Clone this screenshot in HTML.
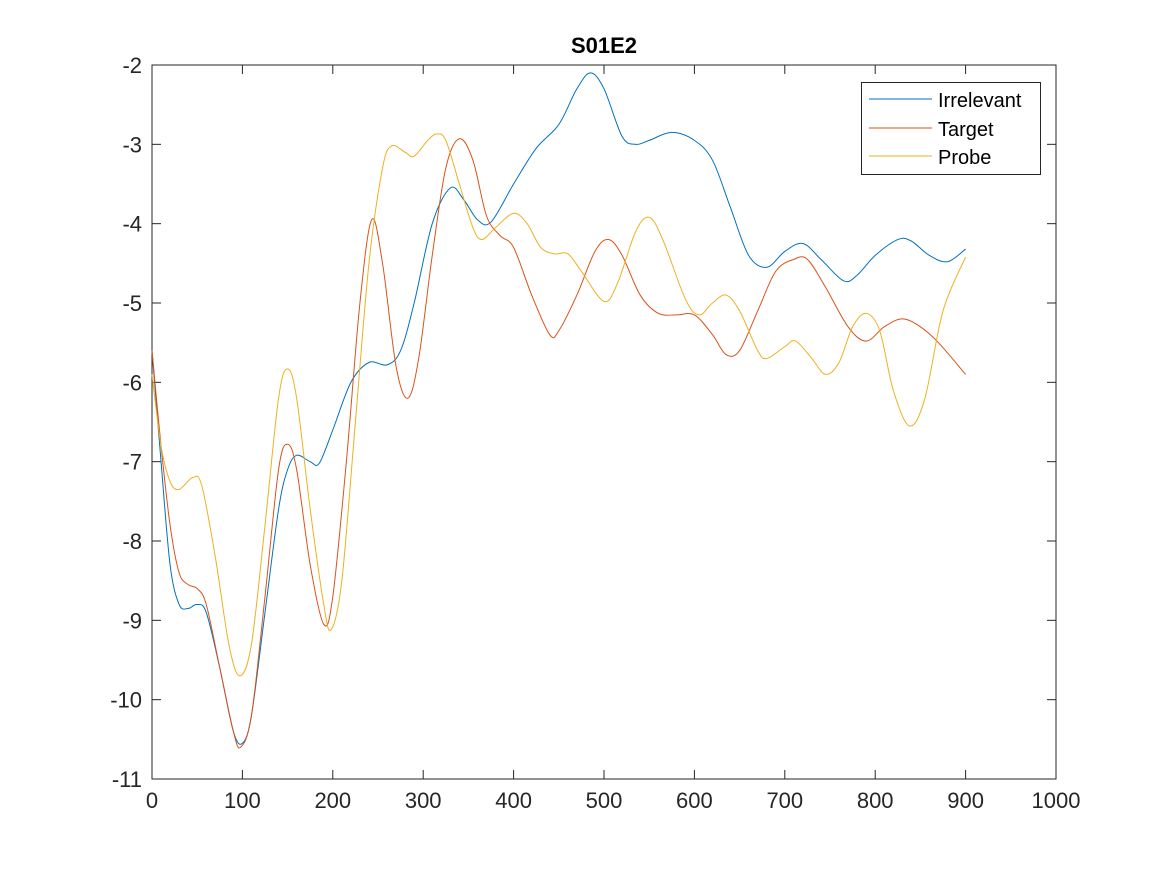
<!DOCTYPE html>
<html><head><meta charset="utf-8"><style>
body{margin:0;background:#fff;}
svg text{font-family:"Liberation Sans",Arial,sans-serif;fill:#262626;}
</style></head><body>
<svg id="chart" width="1167" height="875" viewBox="0 0 1167 875">
<rect width="1167" height="875" fill="#fff"/>
<text x="604" y="53" text-anchor="middle" font-size="22" font-weight="bold" style="fill:#000">S01E2</text>
<g id="axes"></g>
<g id="series"></g>
<g>
<rect x="861.5" y="82.5" width="179" height="92" fill="#fff" stroke="#262626" stroke-width="1"/>
<line x1="869" y1="99" x2="932" y2="99" stroke="#0072BD"/>
<text x="938" y="107" font-size="20" style="fill:#000">Irrelevant</text>
<line x1="869" y1="128" x2="932" y2="128" stroke="#D95319"/>
<text x="938" y="136" font-size="20" style="fill:#000">Target</text>
<line x1="869" y1="156" x2="932" y2="156" stroke="#EDB120"/>
<text x="938" y="164" font-size="20" style="fill:#000">Probe</text>
</g>
</svg>
<script>
const xTicks=[0,100,200,300,400,500,600,700,800,900,1000];
const yTicks=[-2,-3,-4,-5,-6,-7,-8,-9,-10,-11];
const irrX=[0,10,20,30,40,50,60,75,90,100,110,125,140,150,160,175,185,200,220,240,260,275,290,310,330,345,360,375,400,425,450,470,485,500,520,535,550,575,600,620,640,660,680,700,720,740,765,780,800,825,840,860,880,900];
const irrY=[-5.6,-7.0,-8.3,-8.8,-8.85,-8.8,-8.9,-9.6,-10.4,-10.55,-10.2,-8.9,-7.6,-7.1,-6.92,-7.0,-7.02,-6.6,-6.0,-5.75,-5.78,-5.6,-5.0,-4.0,-3.55,-3.7,-3.95,-3.98,-3.5,-3.05,-2.75,-2.3,-2.1,-2.3,-2.9,-3.0,-2.95,-2.85,-2.95,-3.2,-3.8,-4.4,-4.55,-4.35,-4.25,-4.45,-4.72,-4.65,-4.4,-4.2,-4.22,-4.4,-4.48,-4.32];
const tgtX=[0,10,20,30,40,50,60,75,90,98,110,125,140,150,160,175,190,200,215,230,243,255,270,283,295,310,325,340,355,370,385,400,420,440,450,470,490,505,520,540,560,580,600,620,635,650,670,690,710,725,745,770,790,810,830,850,870,900];
const tgtY=[-5.6,-6.8,-7.8,-8.4,-8.55,-8.6,-8.8,-9.6,-10.4,-10.6,-10.2,-8.7,-7.1,-6.78,-7.1,-8.3,-9.05,-8.7,-7.0,-5.0,-3.95,-4.5,-5.8,-6.2,-5.7,-4.4,-3.3,-2.93,-3.2,-3.9,-4.15,-4.3,-4.9,-5.4,-5.35,-4.9,-4.35,-4.2,-4.4,-4.9,-5.13,-5.15,-5.15,-5.4,-5.65,-5.6,-5.1,-4.6,-4.45,-4.45,-4.8,-5.3,-5.48,-5.3,-5.2,-5.3,-5.5,-5.9];
const prbX=[0,10,20,30,45,55,70,85,97,110,125,140,150,160,175,190,198,210,225,240,255,265,280,290,305,315,325,340,355,365,380,400,415,430,445,460,475,500,515,535,550,565,590,605,620,635,650,670,680,700,712,730,745,760,775,790,805,820,838,855,875,900];
const prbY=[-5.9,-6.8,-7.25,-7.35,-7.2,-7.3,-8.2,-9.3,-9.7,-9.3,-7.8,-6.2,-5.83,-6.2,-7.6,-8.8,-9.12,-8.5,-6.5,-4.5,-3.3,-3.02,-3.1,-3.15,-2.95,-2.87,-2.95,-3.5,-4.05,-4.2,-4.05,-3.87,-4.0,-4.3,-4.38,-4.38,-4.6,-4.98,-4.75,-4.1,-3.92,-4.2,-4.95,-5.15,-5.0,-4.9,-5.1,-5.6,-5.7,-5.55,-5.48,-5.7,-5.9,-5.75,-5.3,-5.13,-5.35,-6.1,-6.55,-6.2,-5.1,-4.42];
const L=152,R=1056,T=65,B=779;
const sx=v=>L+(v-0)/1000*(R-L);
const sy=v=>T+(-2-v)/9*(B-T);
const NS='http://www.w3.org/2000/svg';
function mk(tag,attrs,parent){const e=document.createElementNS(NS,tag);for(const k in attrs)e.setAttribute(k,attrs[k]);parent.appendChild(e);return e;}
const ax=document.getElementById('axes');
const box=mk('rect',{x:L,y:T,width:R-L,height:B-T,fill:'none',stroke:'#262626','stroke-width':1},ax);


xTicks.forEach(v=>{const x=sx(v);
mk('line',{x1:x,y1:B,x2:x,y2:B-9,stroke:'#262626'},ax);
mk('line',{x1:x,y1:T,x2:x,y2:T+9,stroke:'#262626'},ax);
const t=mk('text',{x:x,y:B+29,'text-anchor':'middle','font-size':22},ax);t.textContent=v;

});
yTicks.forEach(v=>{const y=sy(v);
mk('line',{x1:L,y1:y,x2:L+9,y2:y,stroke:'#262626'},ax);
mk('line',{x1:R,y1:y,x2:R-9,y2:y,stroke:'#262626'},ax);
const t=mk('text',{x:L-10,y:y+8,'text-anchor':'end','font-size':22},ax);t.textContent=v;

});
function path(xs,ys){const p=xs.map((x,i)=>[sx(x),sy(ys[i])]);let d='M'+p[0][0]+','+p[0][1];
for(let i=0;i<p.length-1;i++){const p0=p[Math.max(0,i-1)],p1=p[i],p2=p[i+1],p3=p[Math.min(p.length-1,i+2)];
const c1=[p1[0]+(p2[0]-p0[0])/6,p1[1]+(p2[1]-p0[1])/6],c2=[p2[0]-(p3[0]-p1[0])/6,p2[1]-(p3[1]-p1[1])/6];
d+=' C'+c1+' '+c2+' '+p2;}return d;}
const sg=document.getElementById('series');
const s1=mk('path',{d:path(irrX,irrY),fill:'none',stroke:'#0072BD','stroke-width':1},sg);


const s2=mk('path',{d:path(tgtX,tgtY),fill:'none',stroke:'#D95319','stroke-width':1},sg);


const s3=mk('path',{d:path(prbX,prbY),fill:'none',stroke:'#EDB120','stroke-width':1},sg);


</script>
</body></html>
